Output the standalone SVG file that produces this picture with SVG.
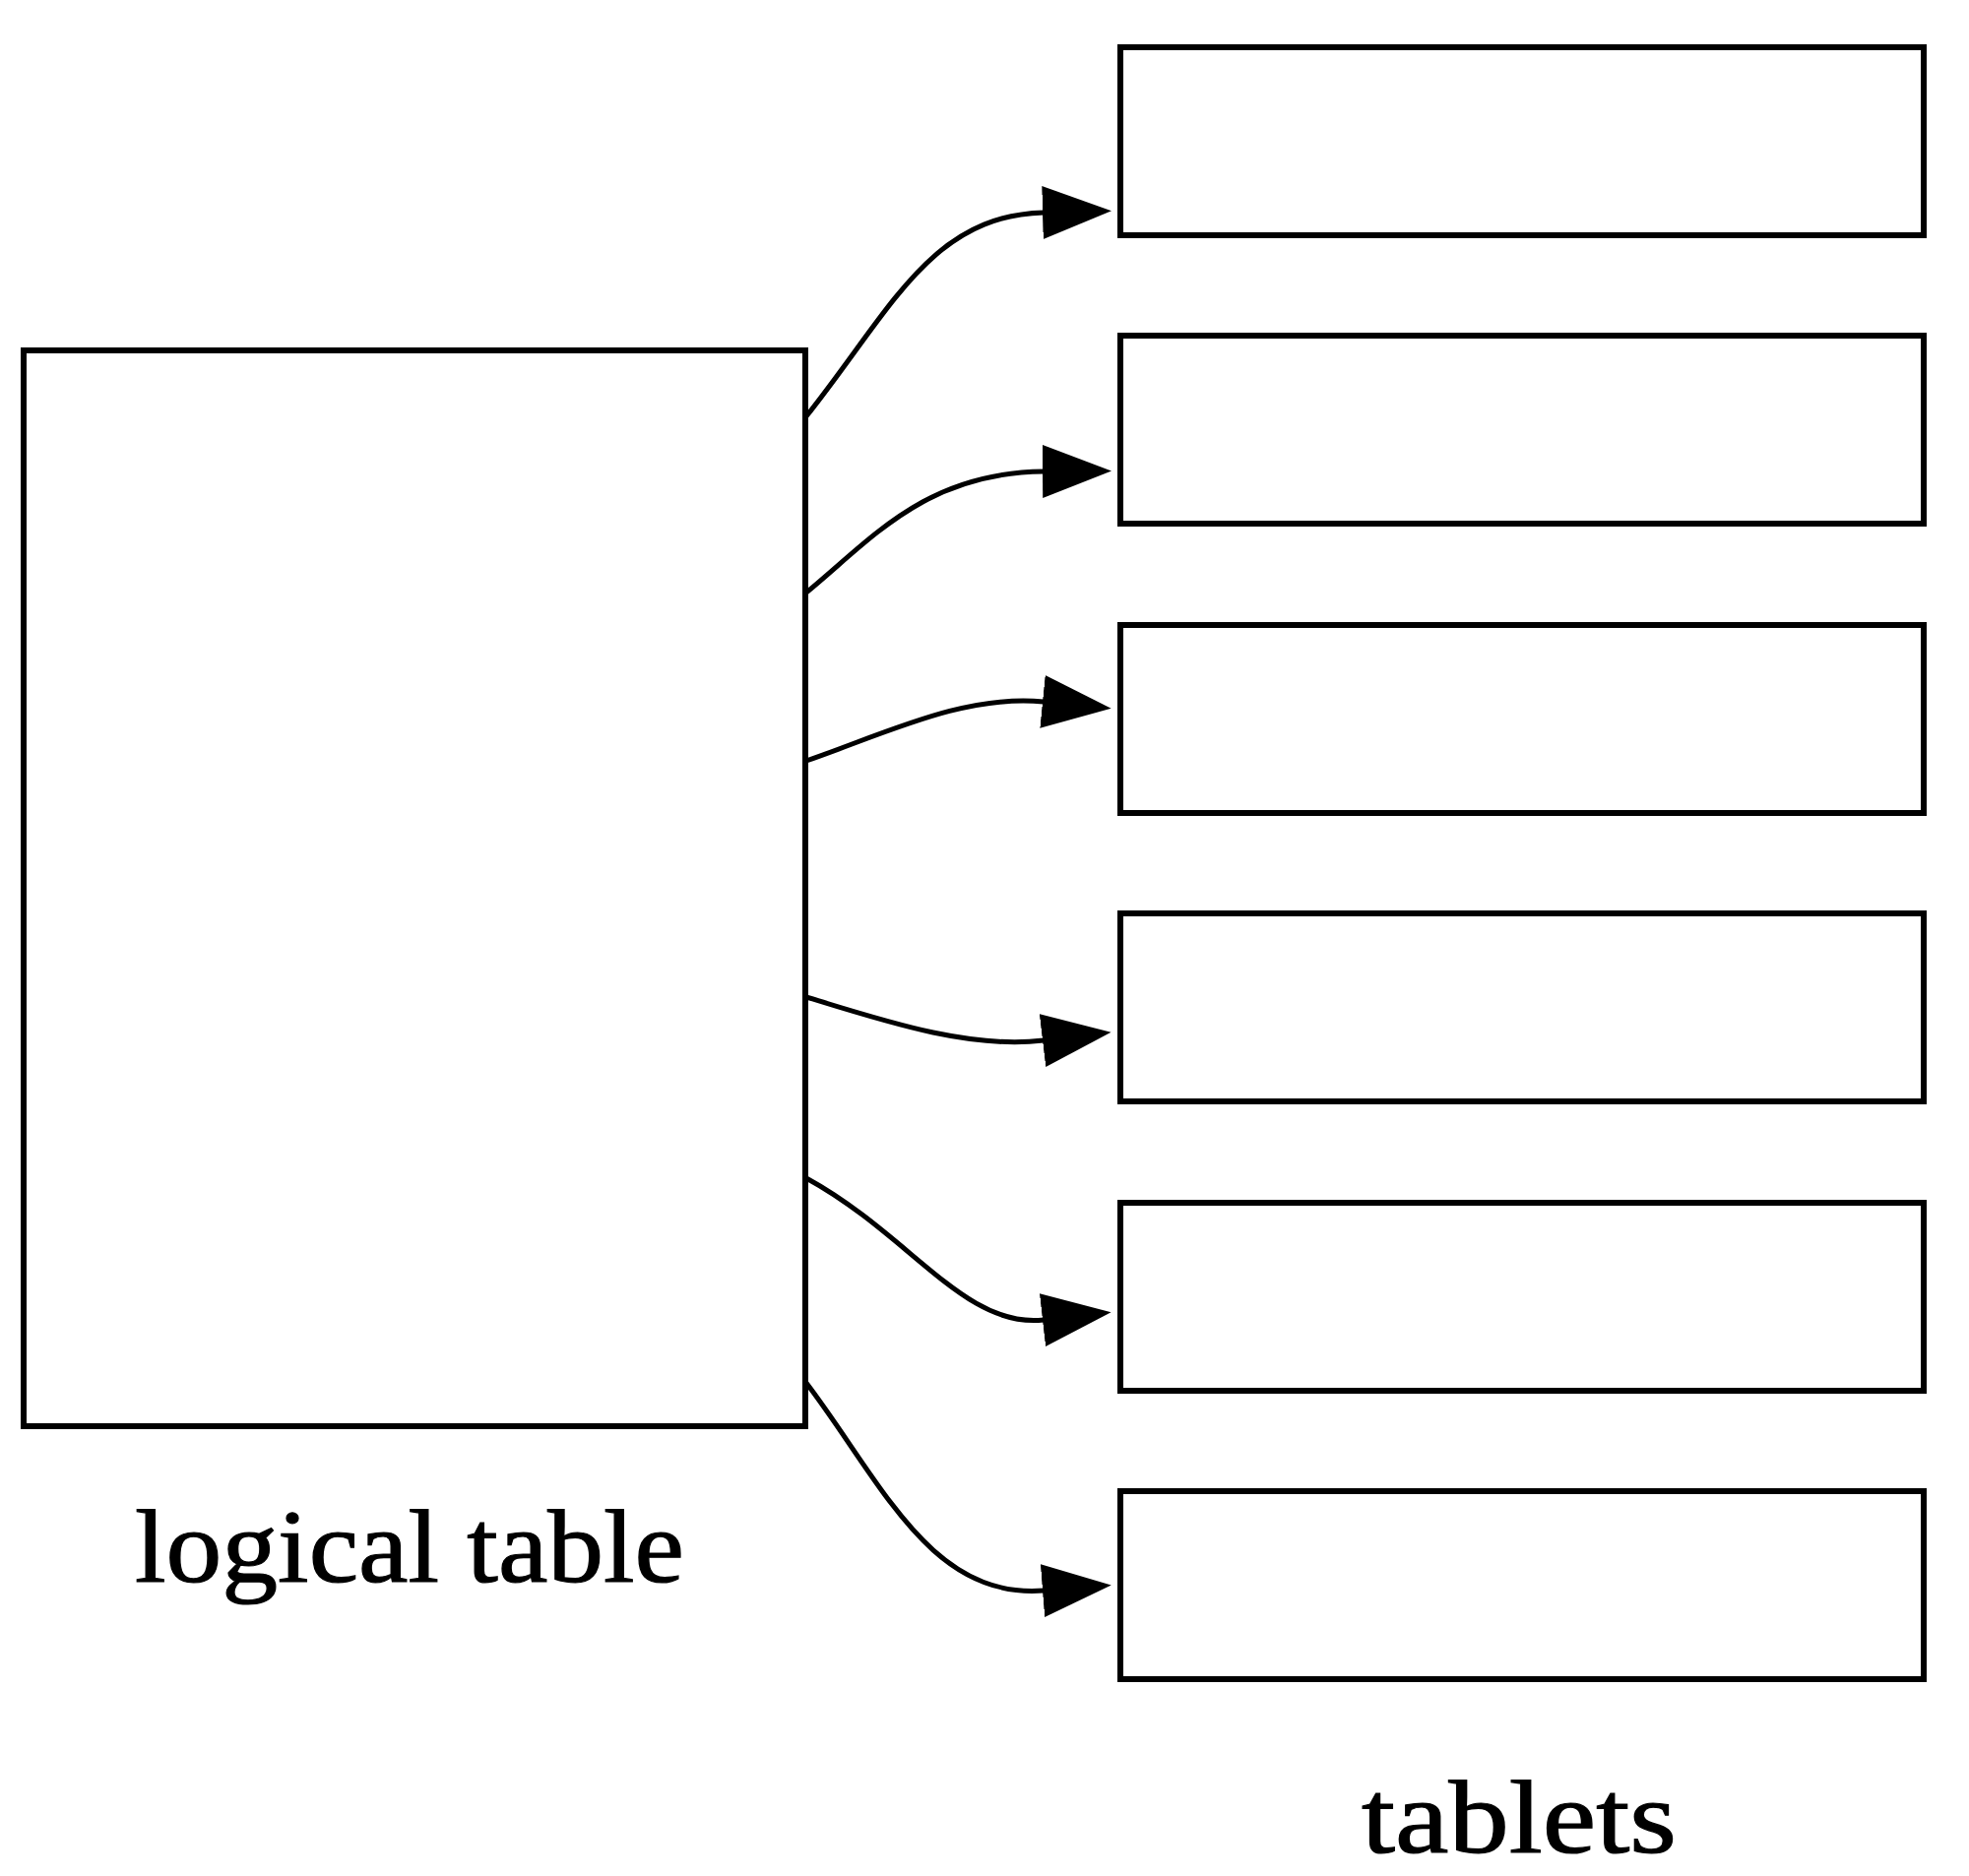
<svg xmlns="http://www.w3.org/2000/svg" width="2000" height="1906" viewBox="0 0 2000 1906">
<style>
.box{fill:#fff;stroke:#000;stroke-width:6}
.edge{fill:none;stroke:#000;stroke-width:5}
.lbl{font-family:"Liberation Serif","Times New Roman",serif;font-size:106px;fill:#000;stroke:#000;stroke-width:1.2;text-anchor:middle}
</style>
<defs>
<marker id="ah" markerUnits="userSpaceOnUse" markerWidth="72" markerHeight="58" viewBox="0 0 72 58" refX="1" refY="29" orient="auto">
<path d="M0,2 L70,29 L0,56 z" fill="#000"/>
</marker>
</defs>
<rect width="2000" height="1906" fill="#fff"/>
<g id="logical_table">
<rect class="box" x="24" y="356" width="794" height="1093"/>
<text class="lbl" x="416" y="1607" textLength="558" lengthAdjust="spacingAndGlyphs">logical table</text>
</g>
<g id="tablet1"><rect class="box" x="1138" y="48" width="816" height="191"/></g>
<g id="tablet2"><rect class="box" x="1138" y="341" width="816" height="191"/></g>
<g id="tablet3"><rect class="box" x="1138" y="635" width="816" height="191"/></g>
<g id="tablet4"><rect class="box" x="1138" y="928" width="816" height="191"/></g>
<g id="tablet5"><rect class="box" x="1138" y="1222" width="816" height="191"/></g>
<g id="tablet6"><rect class="box" x="1138" y="1515" width="816" height="191"/></g>
<g id="tablets_label">
<text class="lbl" x="1543" y="1882" textLength="320" lengthAdjust="spacingAndGlyphs">tablets</text>
</g>
<g id="edges">
<path class="edge" marker-end="url(#ah)" d="M819,423 C905,315 945,219 1060,216"/>
<path class="edge" marker-end="url(#ah)" d="M819,602 C885,548 940,480 1060,479"/>
<path class="edge" marker-end="url(#ah)" d="M819,773 C900,745 980,705 1060,713"/>
<path class="edge" marker-end="url(#ah)" d="M819,1013 C900,1038 985,1066 1060,1057"/>
<path class="edge" marker-end="url(#ah)" d="M819,1197 C925,1255 980,1350 1060,1341"/>
<path class="edge" marker-end="url(#ah)" d="M819,1405 C895,1505 945,1625 1060,1616"/>
</g>
</svg>
